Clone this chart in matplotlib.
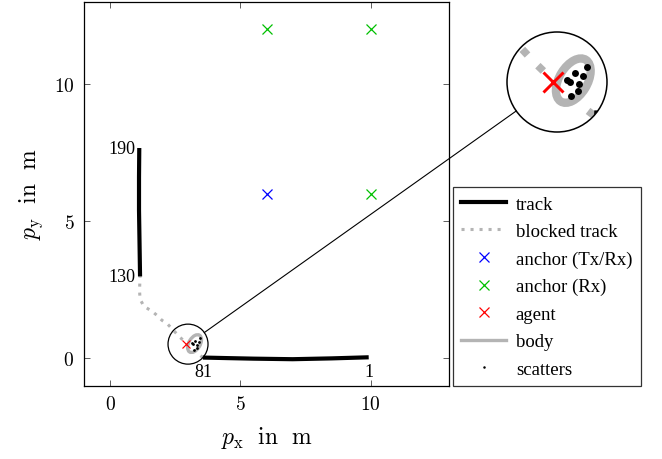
import numpy as np
import matplotlib.pyplot as plt
from matplotlib.patches import Ellipse, Circle
from matplotlib.lines import Line2D

plt.rcParams['font.family'] = ['Liberation Serif', 'DejaVu Serif']
plt.rcParams['mathtext.fontset'] = 'cm'

# ---------------- data ----------------
track1_x = [9.92, 8.5, 7.0, 5.5, 4.5, 3.56]          # index 1 -> 81
track1_y = [0.03, -0.01, -0.04, -0.02, 0.0, 0.02]
track2_x = [1.15, 1.13, 1.11, 1.11, 1.12]            # index 130 -> 190
track2_y = [2.98, 4.2, 5.4, 6.6, 7.67]
blocked_x = [3.56, 3.45, 3.0, 2.64, 2.18, 1.99, 1.80, 1.61, 1.30, 1.15, 1.13, 1.15]
blocked_y = [0.02, 0.10, 0.47, 0.80, 1.27, 1.38, 1.56, 1.71, 1.89, 2.15, 2.47, 2.98]
anchor_txrx_x = [6]
anchor_txrx_y = [6]
anchor_rx_x = [6, 10, 10]
anchor_rx_y = [12, 12, 6]
agent_x = [2.93]
agent_y = [0.51]
scatter_x = [3.445, 3.266, 3.393, 3.143, 3.189, 3.327, 3.319, 3.200]
scatter_y = [0.729, 0.642, 0.593, 0.539, 0.503, 0.481, 0.374, 0.301]
body_center = (3.24, 0.53)
body_size = (0.72, 0.43)
body_angle = 57
label_texts = ['1', '81', '130', '190']
xticks = [0, 5, 10]
yticks = [0, 5, 10]

GRAY = '#b4b4b4'
GREEN = '#00c000'

W, H = 662, 460
fig = plt.figure(figsize=(W / 100, H / 100), dpi=100)
ax_l, ax_b, ax_w, ax_h = 84, 73.5, 365, 383.5   # pixels
ax = fig.add_axes([ax_l / W, ax_b / H, ax_w / W, ax_h / H])
xlim = (-1, 13)
ylim = (-1, 13)
ax.set_xlim(*xlim)
ax.set_ylim(*ylim)


def draw(a, s, clip=None):
    arts = []
    arts += a.plot(blocked_x, blocked_y, color=GRAY, lw=2.2 * s,
                   ls=(0, (1, 1.95)), zorder=2)
    arts += a.plot(track1_x, track1_y, color='black', lw=3.0 * s, zorder=3,
                   solid_capstyle='butt')
    arts += a.plot(track2_x, track2_y, color='black', lw=3.0 * s, zorder=3,
                   solid_capstyle='butt')
    e = Ellipse(body_center, body_size[0], body_size[1], angle=body_angle,
                facecolor='white', edgecolor=GRAY, lw=2.4 * s, zorder=4)
    a.add_patch(e)
    arts.append(e)
    arts += a.plot(scatter_x, scatter_y, 'o', color='black', ms=2.0 * s,
                   mew=0, zorder=5)
    arts += a.plot(anchor_txrx_x, anchor_txrx_y, 'x', color='blue', ms=7,
                   mew=0.9, zorder=5)
    arts += a.plot(anchor_rx_x, anchor_rx_y, 'x', color=GREEN, ms=7,
                   mew=0.9, zorder=5)
    arts += a.plot(agent_x, agent_y, 'x', color='red', ms=6 * s,
                   mew=0.85 * s, zorder=6)
    if clip is not None:
        for art in arts:
            art.set_clip_path(clip)
    return arts


draw(ax, 1)

# track index labels
ax.annotate(label_texts[0], (track1_x[0], track1_y[0]), xytext=(0, -4),
            textcoords='offset points', ha='center', va='top', fontsize=13)
ax.annotate(label_texts[1], (track1_x[-1], track1_y[-1]), xytext=(0, -4),
            textcoords='offset points', ha='center', va='top', fontsize=13)
ax.annotate(label_texts[2], (track2_x[0], track2_y[0]), xytext=(-3, 0),
            textcoords='offset points', ha='right', va='center', fontsize=13)
ax.annotate(label_texts[3], (track2_x[-1], track2_y[-1]), xytext=(-3, 0),
            textcoords='offset points', ha='right', va='center', fontsize=13)

ax.set_xticks(xticks)
ax.set_yticks(yticks)
ax.set_xticklabels([f'${t}$' for t in xticks], fontsize=14)
ax.set_yticklabels([f'${t}$' for t in yticks], fontsize=14)
ax.tick_params(direction='in', length=4.5, width=0.6, color='#444444',
               top=True, right=True, pad=7)
for sp in ax.spines.values():
    sp.set_linewidth(0.9)
ax.set_xlabel(r'$p_\mathrm{x}\ \ \mathrm{in}\ \ \mathrm{m}$', fontsize=17, labelpad=8)
ax.set_ylabel(r'$p_\mathrm{y}\ \ \mathrm{in}\ \ \mathrm{m}$', fontsize=17, labelpad=6)

# ---------------- spy (magnified view) ----------------
sx = ax_w / (xlim[1] - xlim[0])
sy = ax_h / (ylim[1] - ylim[0])
mag = 2.5
r_big = 50
cx, cy = 2.99, 0.51
big_px = np.array([557.0, H - 83.0])
small_px = np.array([ax_l + (cx - xlim[0]) * sx, ax_b + (cy - ylim[0]) * sy])
r_small = r_big / mag

ax.add_patch(Ellipse((cx, cy), 2 * r_small / sx, 2 * r_small / sy,
                     facecolor='none', edgecolor='black', lw=0.9, zorder=7))

axz = fig.add_axes([(big_px[0] - r_big) / W, (big_px[1] - r_big) / H,
                    2 * r_big / W, 2 * r_big / H])
axz.set_xlim(cx - r_big / (mag * sx), cx + r_big / (mag * sx))
axz.set_ylim(cy - r_big / (mag * sy), cy + r_big / (mag * sy))
axz.set_axis_off()
clip = Circle((0.5, 0.5), 0.5, transform=axz.transAxes)
draw(axz, mag, clip=clip)
axz.add_patch(Circle((0.5, 0.5), 0.5, transform=axz.transAxes, fill=False,
                     edgecolor='black', lw=1.1, clip_on=False, zorder=10))

u = (big_px - small_px) / np.linalg.norm(big_px - small_px)
p0 = small_px + r_small * u
p1 = big_px - r_big * u
fig.add_artist(Line2D([p0[0] / W, p1[0] / W], [p0[1] / H, p1[1] / H],
                      transform=fig.transFigure, color='black', lw=0.8))

# ---------------- legend ----------------
handles = [
    Line2D([], [], color='black', lw=3.0),
    Line2D([], [], color=GRAY, lw=2.2, ls=(0, (1, 1.95))),
    Line2D([], [], color='blue', marker='x', ls='none', ms=7, mew=0.9),
    Line2D([], [], color=GREEN, marker='x', ls='none', ms=7, mew=0.9),
    Line2D([], [], color='red', marker='x', ls='none', ms=7, mew=0.9),
    Line2D([], [], color=GRAY, lw=2.4),
    Line2D([], [], color='black', marker='o', ls='none', ms=1.8, mew=0),
]
labels = ['track', 'blocked track', 'anchor (Tx/Rx)', 'anchor (Rx)', 'agent',
          'body', 'scatters']
leg = fig.legend(handles, labels, loc='upper left',
                 bbox_to_anchor=(453 / W, 1 - 188 / H), fontsize=13.5,
                 frameon=True, fancybox=False, edgecolor='black',
                 handlelength=2.4, handletextpad=0.5, labelspacing=0.55,
                 borderpad=0.45, borderaxespad=0)
leg.get_frame().set_linewidth(0.9)

fig.savefig('out.png', dpi=100)
